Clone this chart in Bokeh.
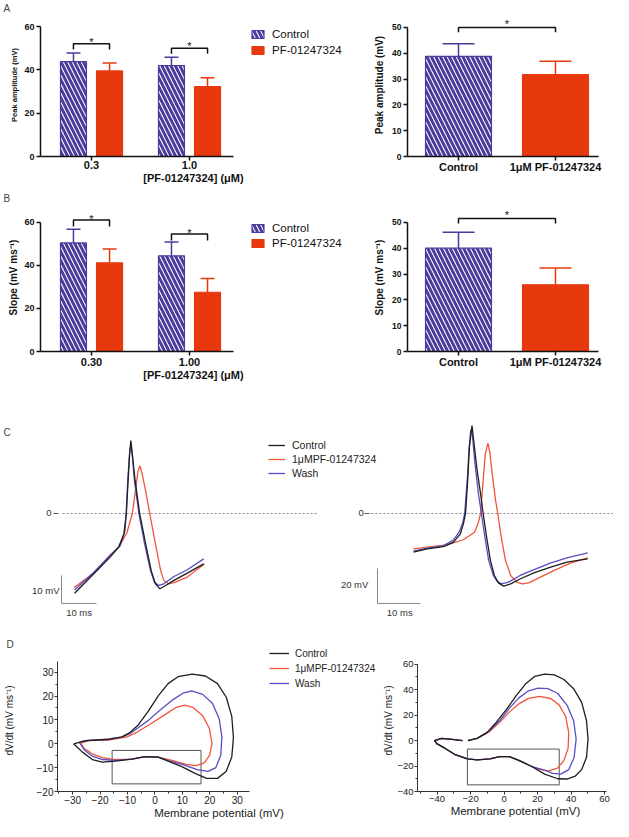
from bokeh.plotting import figure
from bokeh.models import (ColumnDataSource, Whisker, TeeHead, Legend, LegendItem,
                          FixedTicker, SingleIntervalTicker, Range1d)
from bokeh.layouts import column, row
from bokeh.embed import file_html
from bokeh.resources import INLINE
from bokeh.core.properties import value

FONT = "Liberation Sans"
INK = "#111111"
PURPLE = "#4a3b9c"
RED = "#e8380d"
TR_BLACK = "#1e1e1e"
TR_RED = "#f0563a"
TR_BLUE = "#5a4cc2"
GRAY = "#555555"

# ---------------- data: panel A / B (bars) ----------------
series_names = ["Control", "PF-01247324"]
conc_A = ["0.3", "1.0"]
peak_ctrl = [43.8, 42.0]
peak_ctrl_err = [4.0, 3.8]
peak_pf = [39.5, 32.3]
peak_pf_err = [3.7, 4.0]
peak_brackets = [52.0, 50.0]

pair_labels = ["Control", "1μM PF-01247324"]
peak_pair = [38.8, 31.7]
peak_pair_err = [4.9, 5.2]
peak_pair_bracket = 50.0

conc_B = ["0.30", "1.00"]
slope_ctrl = [50.4, 44.4]
slope_ctrl_err = [6.4, 6.4]
slope_pf = [41.2, 27.5]
slope_pf_err = [6.4, 6.4]
slope_brackets = [61.0, 54.5]

slope_pair = [40.0, 25.8]
slope_pair_err = [6.2, 6.5]
slope_pair_bracket = 51.5

# ---------------- data: panel C (action potentials, ms / mV) ----------------
trace_names = ["Control", "1μMPF-01247324", "Wash"]

C_left_ctrl_t = [0.3, 5.8, 10.6, 12.9, 14.4, 15.1, 15.6, 16.1, 16.4, 16.9, 17.6, 18.9, 20.6, 22.2, 23.4, 24.7, 26.3, 28.7, 32.5, 37.2]
C_left_ctrl_v = [-28.5, -21.5, -15.4, -12.0, -7.3, 0.0, 11.8, 22.5, 26.0, 20.1, 11.8, 0.0, -10.8, -20.4, -25.1, -26.9, -25.7, -23.9, -21.3, -18.0]
C_left_pf_t = [0.1, 5.8, 10.6, 13.0, 15.3, 16.8, 17.7, 18.4, 18.95, 19.6, 20.6, 21.8, 23.4, 24.9, 25.8, 27.2, 29.1, 32.5, 37.4]
C_left_pf_v = [-26.5, -21.3, -14.6, -12.0, -6.7, -0.1, 8.2, 14.8, 17.1, 14.2, 8.2, -0.1, -10.8, -20.4, -23.9, -25.1, -24.5, -22.7, -18.0]
C_left_wash_t = [0.3, 5.8, 10.6, 13.4, 14.7, 15.05, 15.5, 16.0, 16.4, 16.8, 17.4, 18.7, 20.3, 22.0, 23.1, 24.4, 25.8, 28.7, 32.5, 37.2]
C_left_wash_v = [-27.3, -21.0, -14.8, -11.4, -6.1, -0.1, 11.8, 21.3, 24.3, 20.7, 11.8, -0.1, -10.8, -20.4, -24.5, -25.7, -25.1, -22.5, -20.1, -16.2]

C_right_ctrl_t = [0.0, 3.2, 7.0, 9.3, 10.9, 11.6, 12.1, 12.6, 13.0, 13.6, 14.0, 14.8, 15.6, 16.2, 17.0, 17.9, 18.8, 19.8, 21.0, 22.6, 24.9, 28.0, 31.9, 35.7, 40.5]
C_right_ctrl_v = [-22.1, -20.2, -18.9, -16.4, -11.6, -5.9, 0.0, 18.9, 37.9, 50.3, 41.7, 24.6, 11.2, 0.0, -13.5, -26.9, -35.4, -39.8, -41.5, -40.2, -37.3, -33.9, -30.7, -27.8, -25.9]
C_right_pf_t = [0.0, 3.2, 7.8, 11.6, 14.2, 15.1, 15.6, 16.2, 16.7, 17.3, 17.75, 18.4, 19.1, 19.6, 20.4, 21.4, 22.6, 24.0, 25.3, 26.8, 29.5, 32.6, 36.5, 40.5]
C_right_pf_v = [-20.2, -19.2, -17.9, -15.0, -10.7, -5.0, 0.0, 18.9, 34.1, 40.2, 35.0, 20.8, 7.4, 0.0, -13.5, -26.9, -35.4, -39.2, -40.2, -39.6, -36.4, -32.6, -28.4, -25.3]
C_right_wash_t = [0.0, 3.2, 7.0, 9.2, 10.6, 11.5, 11.9, 12.5, 12.9, 13.3, 13.7, 14.3, 15.1, 15.8, 16.6, 17.5, 18.5, 19.4, 20.5, 22.1, 24.8, 27.9, 31.8, 35.7, 40.5]
C_right_wash_v = [-21.5, -19.8, -18.3, -15.4, -10.7, -5.0, 0.0, 18.9, 36.0, 47.8, 44.6, 28.4, 11.2, 0.0, -13.5, -26.9, -34.9, -38.7, -40.2, -39.2, -35.4, -32.2, -28.4, -25.3, -22.5]

# ---------------- data: panel D (phase plots, mV vs mV/ms) ----------------
D_left_ctrl_V = [-29.6, -25.2, -16.8, -12.0, -9.0, -6.0, -2.4, 1.2, 4.8, 8.4, 13.6, 18.4, 22.8, 26.0, 28.0, 28.6, 28.0, 26.0, 22.8, 18.8, 14.8, 9.8, 4.8, 1.2, -3.6, -8.4, -14.4, -19.2, -22.8, -26.4, -28.8, -29.6]
D_left_ctrl_dVdt = [0.0, 1.3, 1.9, 2.9, 4.8, 8.0, 13.7, 20.1, 25.2, 28.1, 29.2, 28.4, 25.2, 19.5, 11.5, 2.5, -5.5, -11.5, -14.5, -14.5, -12.5, -9.6, -7.3, -5.6, -5.4, -6.4, -7.3, -7.7, -6.6, -3.5, -0.9, 0.0]
D_left_pf_V = [-27.0, -24.0, -16.8, -10.2, -6.6, -1.8, 3.0, 7.8, 10.8, 13.8, 17.4, 19.8, 20.8, 20.0, 18.0, 15.0, 11.4, 6.6, 1.2, -3.6, -8.4, -14.4, -19.2, -23.0, -26.0, -27.0]
D_left_pf_dVdt = [0.3, 1.3, 1.5, 2.9, 4.8, 8.2, 11.7, 15.3, 16.2, 15.3, 11.7, 6.6, 0.3, -4.7, -8.0, -9.2, -8.6, -7.1, -5.6, -5.4, -6.4, -6.6, -5.8, -4.1, -1.8, 0.3]
D_left_wash_V = [-27.6, -25.2, -16.8, -12.0, -9.0, -6.0, -2.4, 1.8, 6.6, 10.2, 13.4, 17.4, 21.0, 23.4, 24.4, 24.0, 22.2, 19.4, 15.4, 10.2, 4.8, 1.2, -3.6, -8.4, -14.4, -19.2, -22.8, -25.8, -27.6]
D_left_wash_dVdt = [0.7, 1.3, 1.9, 2.8, 4.3, 6.8, 9.8, 14.0, 18.5, 21.2, 22.2, 20.7, 16.9, 10.5, 2.9, -4.7, -10.0, -11.6, -10.8, -8.7, -7.1, -5.6, -5.4, -6.4, -7.0, -6.6, -5.2, -2.5, 0.7]
D_left_box = [-15.6, 16.8, -16.8, -2.8]   # left, right, bottom, top

D_right_ctrl_V = [-21.6, -16.1, -10.4, -4.6, 1.2, 6.9, 12.7, 18.4, 24.2, 30.0, 35.7, 41.5, 46.3, 49.2, 50.1, 49.2, 46.3, 42.4, 37.6, 32.0, 24.2, 16.5, 8.8, 3.1, -2.7, -8.5, -16.1, -21.9, -29.6, -35.4, -40.2, -41.5, -37.3, -29.6, -24.8]
D_right_ctrl_dVdt = [0.0, 1.7, 6.0, 14.4, 24.0, 34.7, 44.3, 50.4, 52.2, 51.5, 47.9, 40.7, 29.9, 15.5, 1.2, -13.2, -22.8, -28.0, -30.2, -30.0, -26.4, -20.4, -15.6, -12.7, -12.7, -14.4, -15.1, -14.4, -10.8, -6.0, -2.4, 0.0, 1.7, 0.7, 0.0]
D_right_pf_V = [-21.6, -16.1, -8.5, -2.7, 3.1, 8.8, 14.6, 21.3, 28.0, 32.8, 36.7, 38.6, 38.2, 35.7, 31.9, 26.1, 20.3, 14.6, 8.8, 3.1, -2.7, -8.5, -16.1, -21.9, -29.6, -35.4, -40.2, -41.5, -37.3, -29.6, -24.8]
D_right_pf_dVdt = [0.0, 1.7, 7.2, 14.4, 22.3, 28.8, 33.1, 34.7, 32.8, 28.0, 19.1, 6.0, -6.0, -15.6, -21.6, -24.0, -22.3, -19.2, -15.6, -12.7, -12.7, -14.4, -15.1, -14.4, -10.8, -6.0, -2.4, 0.0, 1.7, 0.7, 0.0]
D_right_wash_V = [-21.6, -16.1, -8.5, -2.7, 3.1, 8.8, 14.6, 20.3, 26.1, 31.9, 37.6, 41.5, 43.0, 41.8, 38.6, 33.8, 29.0, 24.2, 16.5, 8.8, 3.1, -2.7, -8.5, -16.1, -21.9, -29.6, -35.4, -40.2, -41.5, -37.3, -29.6, -24.8]
D_right_wash_dVdt = [0.0, 1.7, 7.9, 15.5, 25.2, 33.5, 39.0, 41.2, 40.7, 37.1, 27.6, 15.5, 1.2, -13.2, -22.8, -26.4, -25.7, -23.3, -20.4, -15.6, -12.7, -12.7, -14.4, -15.1, -14.4, -10.8, -6.0, -2.4, 0.0, 1.7, 0.7, 0.0]
D_right_box = [-21.9, 32.9, -34.8, -6.7]


# ---------------- helpers ----------------
def base_fig(w, h, borders, xr, yr, axes=True):
    l, r, t, b = borders
    kw = {} if axes else dict(x_axis_location=None, y_axis_location=None)
    p = figure(width=w, height=h, x_range=Range1d(*xr), y_range=Range1d(*yr),
               output_backend="svg", toolbar_location=None,
               min_border_left=l, min_border_right=r,
               min_border_top=t, min_border_bottom=b, **kw)
    p.grid.visible = False
    p.outline_line_color = None
    p.background_fill_color = "white"
    p.border_fill_color = "white"
    return p


def panel_letter(p, txt, offset):
    p.title.text = txt
    p.title.align = "left"
    p.title.offset = offset
    p.title.standoff = 0
    p.title.text_font = FONT
    p.title.text_font_size = "10px"
    p.title.text_font_style = "normal"
    p.title.text_color = "#444444"


def bar_axes(p, xticks, xlabels, xb, yticks, yb, ylabel, ylabel_size, ytick_size,
             xtick_size, xlabel, ylabel_standoff, xtick_standoff):
    xa, ya = p.xaxis[0], p.yaxis[0]
    for ax in (xa, ya):
        ax.axis_line_width = 1.5
        ax.axis_line_color = INK
        ax.major_tick_line_width = 1.5
        ax.major_tick_line_color = INK
        ax.major_tick_in = 0
        ax.major_tick_out = 4
        ax.minor_tick_line_color = None
        ax.major_label_text_font = FONT
        ax.major_label_text_font_style = "bold"
        ax.major_label_text_color = INK
        ax.axis_label_text_font = FONT
        ax.axis_label_text_font_style = "bold"
        ax.axis_label_text_color = INK
    xa.ticker = FixedTicker(ticks=xticks)
    xa.major_label_overrides = dict(zip(xticks, xlabels))
    xa.bounds = xb
    xa.major_label_text_font_size = xtick_size
    xa.major_label_standoff = xtick_standoff
    if xlabel:
        xa.axis_label = xlabel
        xa.axis_label_text_font_size = "11px"
        xa.axis_label_standoff = 0
    ya.ticker = FixedTicker(ticks=yticks)
    ya.bounds = yb
    ya.major_label_text_font_size = ytick_size
    ya.major_label_standoff = 2
    ya.axis_label = ylabel
    ya.axis_label_text_font_size = ylabel_size
    ya.axis_label_standoff = ylabel_standoff


def star(p, xs, ys, dy):
    p.text(x=xs, y=ys, text=["*"] * len(xs), text_align="center",
           text_baseline="alphabetic", y_offset=dy, text_font=value(FONT),
           text_font_size=value("11px"), text_color=INK)


HATCH = dict(fill_color="white", line_color=PURPLE, line_width=1.2, hatch_pattern="\\",
             hatch_color=PURPLE, hatch_scale=9, hatch_weight=3)
SOLID = dict(fill_color=RED, line_color=RED, line_width=1.2)


def whiskers(p, sources):
    for s, col in sources:
        p.add_layout(Whisker(base="x", lower="top", upper="upper", source=s,
                             line_color=col, line_width=1.5, lower_head=None,
                             upper_head=TeeHead(size=s.data["cap"][0], line_color=col,
                                                line_width=1.5)))


def grouped_bars(p, ctrl, ctrl_err, pf, pf_err, brackets, offset, bw, cap, drop, dy):
    idx = list(range(len(ctrl)))
    xc = [i - offset for i in idx]
    xp = [i + offset for i in idx]
    sc = ColumnDataSource(dict(x=xc, top=ctrl, upper=[v + e for v, e in zip(ctrl, ctrl_err)],
                               cap=[cap] * len(xc)))
    sp = ColumnDataSource(dict(x=xp, top=pf, upper=[v + e for v, e in zip(pf, pf_err)],
                               cap=[cap] * len(xp)))
    rc = p.vbar(x="x", top="top", width=bw, source=sc, **HATCH)
    rp = p.vbar(x="x", top="top", width=bw, source=sp, **SOLID)
    whiskers(p, ((sc, PURPLE), (sp, RED)))
    p.multi_line([[a, a, b, b] for a, b in zip(xc, xp)],
                 [[h - drop, h, h, h - drop] for h in brackets],
                 line_color=INK, line_width=1.5)
    star(p, [(a + b) / 2 for a, b in zip(xc, xp)], brackets, dy)
    return rc, rp


def pair_bars(p, vals, errs, bracket, bw, cap, drop, dy):
    s0 = ColumnDataSource(dict(x=[0], top=[vals[0]], upper=[vals[0] + errs[0]], cap=[cap]))
    s1 = ColumnDataSource(dict(x=[1], top=[vals[1]], upper=[vals[1] + errs[1]], cap=[cap]))
    p.vbar(x="x", top="top", width=bw, source=s0, **HATCH)
    p.vbar(x="x", top="top", width=bw, source=s1, **SOLID)
    whiskers(p, ((s0, PURPLE), (s1, RED)))
    p.multi_line([[0, 0, 1, 1]], [[bracket - drop, bracket, bracket, bracket - drop]],
                 line_color=INK, line_width=1.5)
    star(p, [0.5], [bracket], dy)


def bar_legend(p, rc, rp, loc, row_h):
    leg = Legend(items=[LegendItem(label=series_names[0], renderers=[rc]),
                        LegendItem(label=series_names[1], renderers=[rp])],
                 location=loc, orientation="vertical", glyph_width=15, glyph_height=10,
                 label_standoff=7, spacing=0, label_height=row_h, padding=0, margin=0,
                 border_line_color=None, background_fill_alpha=0,
                 label_text_font=FONT, label_text_font_size="11.5px", label_text_color=INK)
    p.add_layout(leg)


# ---------------- row A ----------------
pA1 = base_fig(346, 190, (40, 0, 13, 34), (-0.5204, 2.6020), (0, 66.0))
panel_letter(pA1, "A", -37)
rc, rp = grouped_bars(pA1, peak_ctrl, peak_ctrl_err, peak_pf, peak_pf_err, peak_brackets,
                      0.184, 0.265, 14, 2.6, -2)
bar_axes(pA1, list(range(len(conc_A))), conc_A, (-0.5204, 1.449), [0, 20, 40, 60], (0, 60),
         "Peak amplitude (mV)", "7.5px", "9px", "11px", "[PF-01247324] (μM)", 2, 0)
bar_legend(pA1, rc, rp, (210, 98), 16)

pA2 = base_fig(267, 190, (61, 0, 12, 34), (-0.5258, 1.598), (0, 55.38))
pair_bars(pA2, peak_pair, peak_pair_err, peak_pair_bracket, 0.68, 32, 1.9, -3)
bar_axes(pA2, list(range(len(pair_labels))), pair_labels, (-0.5258, 1.443),
         [0, 10, 20, 30, 40, 50], (0, 50), "Peak amplitude (mV)", "10px", "8.5px", "11px",
         None, 4, 0)

# ---------------- row B ----------------
pB1 = base_fig(346, 205, (40, 0, 12, 43), (-0.5204, 2.6020), (0, 68.70))
panel_letter(pB1, "B", -37)
rc, rp = grouped_bars(pB1, slope_ctrl, slope_ctrl_err, slope_pf, slope_pf_err, slope_brackets,
                      0.184, 0.265, 14, 3.0, -1)
bar_axes(pB1, list(range(len(conc_B))), conc_B, (-0.5204, 1.449), [0, 20, 40, 60], (0, 60),
         "Slope (mV ms⁻¹)", "10px", "9px", "11px", "[PF-01247324] (μM)", 2, 2)
bar_legend(pB1, rc, rp, (210, 100.5), 15)

pB2 = base_fig(267, 205, (61, 0, 12, 44), (-0.5258, 1.598), (0, 57.3))
pair_bars(pB2, slope_pair, slope_pair_err, slope_pair_bracket, 0.68, 32, 1.9, -3)
bar_axes(pB2, list(range(len(pair_labels))), pair_labels, (-0.5258, 1.443),
         [0, 10, 20, 30, 40, 50], (0, 50), "Slope (mV ms⁻¹)", "10px", "8.5px", "11px",
         None, 4, 0)

# ---------------- row C ----------------
pC = base_fig(613, 241, (0, 0, 0, 0), (-20.857, 154.286), (-43.93, 42.14), axes=False)
pC.extra_x_ranges = {"r": Range1d(-96.047, 46.512)}
pC.extra_y_ranges = {"r": Range1d(-70.29, 67.43)}
R = dict(x_range_name="r", y_range_name="r")

# zero reference lines, "0" marks
pC.segment(x0=[-3.1], y0=[0], x1=[70], y1=[0], line_color="#888888", line_dash="2 2", line_width=1)
pC.segment(x0=[-5.7], y0=[0], x1=[-4.3], y1=[0], line_color=GRAY, line_width=1)
pC.text(x=[-7.0], y=[0], text=["0"], text_align="center", text_baseline="middle",
        text_font=value(FONT), text_font_size=value("9.5px"), text_color="#333333")
pC.segment(x0=[-9.8], y0=[0], x1=[46.5], y1=[0], line_color="#888888", line_dash="2 2",
           line_width=1, **R)
pC.segment(x0=[-11.4], y0=[0], x1=[-10.2], y1=[0], line_color=GRAY, line_width=1, **R)
pC.text(x=[-12.2], y=[0], text=["0"], text_align="center", text_baseline="middle",
        text_font=value(FONT), text_font_size=value("9.5px"), text_color="#333333", **R)

# scale bars
SB_MS = 10
SB_MV_L = 10
SB_MV_R = 20
pC.multi_line([[-3.43, -3.43, -3.43 + SB_MS]], [[-32.1 + SB_MV_L, -32.1, -32.1]],
              line_color="#888888", line_width=1)
pC.multi_line([[-8.37, -8.37, -8.37 + SB_MS]], [[-51.4 + SB_MV_R, -51.4, -51.4]],
              line_color="#888888", line_width=1, **R)
for x, y, t, al, kw in ((-4.0, -27.5, "10 mV", "right", {}), (1.6, -35.4, "10 ms", "center", {}),
                        (-10.5, -40.6, "20 mV", "right", R), (-3.2, -56.6, "10 ms", "center", R)):
    pC.text(x=[x], y=[y], text=[t], text_align=al, text_baseline="middle",
            text_font=value(FONT), text_font_size=value("9.5px"), text_color="#333333", **kw)

pC.text(x=[-20.0], y=[28.9], text=["C"], text_align="left", text_baseline="middle",
        text_font=value(FONT), text_font_size=value("10px"), text_color="#444444")

cl_pf = pC.line(C_left_pf_t, C_left_pf_v, line_color=TR_RED, line_width=1.3)
cl_wash = pC.line(C_left_wash_t, C_left_wash_v, line_color=TR_BLUE, line_width=1.3)
cl_ctrl = pC.line(C_left_ctrl_t, C_left_ctrl_v, line_color=TR_BLACK, line_width=1.3)
pC.line(C_right_pf_t, C_right_pf_v, line_color=TR_RED, line_width=1.3, **R)
pC.line(C_right_wash_t, C_right_wash_v, line_color=TR_BLUE, line_width=1.3, **R)
pC.line(C_right_ctrl_t, C_right_ctrl_v, line_color=TR_BLACK, line_width=1.3, **R)

pC.add_layout(Legend(items=[LegendItem(label=trace_names[0], renderers=[cl_ctrl]),
                            LegendItem(label=trace_names[1], renderers=[cl_pf]),
                            LegendItem(label=trace_names[2], renderers=[cl_wash])],
                     location=(268, 156), glyph_width=17, glyph_height=10, label_standoff=7,
                     spacing=0, label_height=14, padding=0, margin=0, border_line_color=None,
                     background_fill_alpha=0, label_text_font=FONT,
                     label_text_font_size="10.5px", label_text_color="#222222"))


# ---------------- row D ----------------
def phase_axes(p, xint, yint, xb, yb, ylabel_standoff, tick_size):
    xa, ya = p.xaxis[0], p.yaxis[0]
    for ax in (xa, ya):
        ax.axis_line_color = "#333333"
        ax.axis_line_width = 1
        ax.major_tick_line_color = "#333333"
        ax.major_tick_in = 0
        ax.major_tick_out = 3
        ax.minor_tick_line_color = "#333333"
        ax.minor_tick_in = 0
        ax.minor_tick_out = 2
        ax.major_label_text_font = FONT
        ax.major_label_text_font_size = tick_size
        ax.major_label_text_color = "#222222"
        ax.major_label_standoff = 1
        ax.axis_label_text_font = FONT
        ax.axis_label_text_font_style = "normal"
        ax.axis_label_text_color = "#222222"
    xa.ticker = SingleIntervalTicker(interval=xint, num_minor_ticks=2)
    ya.ticker = SingleIntervalTicker(interval=yint, num_minor_ticks=2)
    xa.bounds = xb
    ya.bounds = yb
    xa.axis_label = "Membrane potential (mV)"
    xa.axis_label_text_font_size = "11.5px"
    xa.axis_label_standoff = 0
    ya.axis_label = "dV/dt (mV ms⁻¹)"
    ya.axis_label_text_font_size = "10px"
    ya.axis_label_standoff = ylabel_standoff


pD1 = base_fig(380, 185, (53, 0, 12, 27), (-35.51, 82.2), (-20, 39.5))
panel_letter(pD1, "D", -51)
pD1.quad(left=[D_left_box[0]], right=[D_left_box[1]], bottom=[D_left_box[2]], top=[D_left_box[3]],
         fill_color=None, line_color="#555555", line_width=1)
dl_pf = pD1.line(D_left_pf_V, D_left_pf_dVdt, line_color=TR_RED, line_width=1.3)
dl_wash = pD1.line(D_left_wash_V, D_left_wash_dVdt, line_color=TR_BLUE, line_width=1.3)
dl_ctrl = pD1.line(D_left_ctrl_V, D_left_ctrl_dVdt, line_color=TR_BLACK, line_width=1.3)
phase_axes(pD1, 10, 10, (-35.51, 34.3), (-20, 34.6), 19, "10px")
pD1.add_layout(Legend(items=[LegendItem(label=trace_names[0], renderers=[dl_ctrl]),
                             LegendItem(label=trace_names[1], renderers=[dl_pf]),
                             LegendItem(label=trace_names[2], renderers=[dl_wash])],
                      location=(212, 100.5), glyph_width=20, glyph_height=10, label_standoff=6,
                      spacing=0, label_height=15, padding=0, margin=0, border_line_color=None,
                      background_fill_alpha=0, label_text_font=FONT,
                      label_text_font_size="10px", label_text_color="#222222"))

pD2 = base_fig(233, 185, (30, 0, 12, 27), (-51.7, 65.3), (-40, 71.45))
pD2.quad(left=[D_right_box[0]], right=[D_right_box[1]], bottom=[D_right_box[2]], top=[D_right_box[3]],
         fill_color=None, line_color="#555555", line_width=1)
pD2.line(D_right_pf_V, D_right_pf_dVdt, line_color=TR_RED, line_width=1.3)
pD2.line(D_right_wash_V, D_right_wash_dVdt, line_color=TR_BLUE, line_width=1.3)
pD2.line(D_right_ctrl_V, D_right_ctrl_dVdt, line_color=TR_BLACK, line_width=1.3)
phase_axes(pD2, 20, 20, (-51.7, 61.0), (-40, 60), 0, "9.5px")

layout = column(row(pA1, pA2, spacing=0), row(pB1, pB2, spacing=0), pC,
                row(pD1, pD2, spacing=0), spacing=0)

open("out.html", "w").write(file_html(layout, INLINE))
